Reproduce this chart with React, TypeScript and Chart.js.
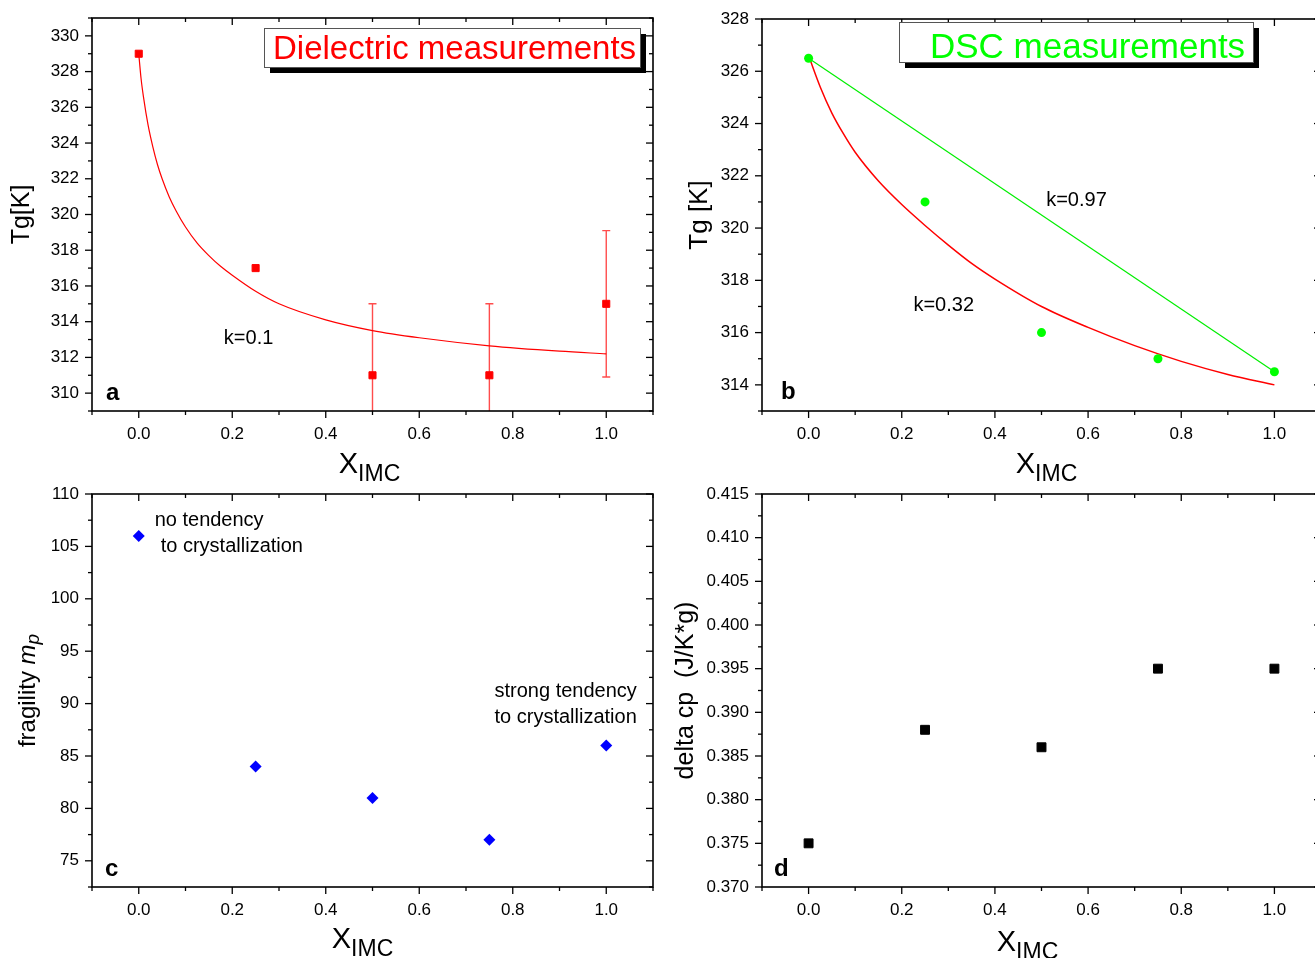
import React, { useEffect, useRef } from 'react';
import { Chart, registerables } from 'chart.js';

Chart.register(...registerables);

const FONT = '"Liberation Sans", Arial, Helvetica, sans-serif';

// ---------- shared x axis ----------
const xTicks = [0, 0.2, 0.4, 0.6, 0.8, 1.0];
const xMinorTicks = [-0.1, 0.1, 0.3, 0.5, 0.7, 0.9, 1.1];

// ---------- panel a : dielectric Tg ----------
const aX = [0, 0.25, 0.5, 0.75, 1.0];
const aTg = [329, 317, 311, 311, 315];
const aErr = [0, 0, 4, 4, 4.1];
const aFitX = [0, 0.005, 0.01, 0.02, 0.03, 0.04, 0.05, 0.065, 0.08, 0.1, 0.125, 0.15, 0.175, 0.2, 0.25, 0.3, 0.4, 0.5, 0.6, 0.75, 0.9, 1.0];
const aFitTg = [329.0, 327.6, 326.6, 325.0, 323.8, 322.8, 322.0, 321.0, 320.2, 319.3, 318.4, 317.7, 317.1, 316.6, 315.7, 315.0, 314.1, 313.5, 313.1, 312.65, 312.35, 312.2];
const aYTicks = [310, 312, 314, 316, 318, 320, 322, 324, 326, 328, 330];
const aYMinor = [309, 311, 313, 315, 317, 319, 321, 323, 325, 327, 329, 331];

// ---------- panel b : DSC Tg ----------
const bX = [0, 0.25, 0.5, 0.75, 1.0];
const bTg = [326.5, 321, 316, 315, 314.5];
const bLineX = [0, 1.0];
const bLineTg = [326.5, 314.5];
const bFitX = [0, 0.025, 0.05, 0.075, 0.1, 0.15, 0.2, 0.25, 0.3, 0.35, 0.4, 0.5, 0.6, 0.7, 0.8, 0.9, 1.0];
const bFitTg = [326.6, 325.4, 324.4, 323.6, 322.9, 321.8, 320.9, 320.1, 319.35, 318.65, 318.05, 317.0, 316.2, 315.5, 314.9, 314.4, 314.0];
const bYTicks = [314, 316, 318, 320, 322, 324, 326, 328];
const bYMinor = [313, 315, 317, 319, 321, 323, 325, 327];

// ---------- panel c : fragility ----------
const cX = [0, 0.25, 0.5, 0.75, 1.0];
const cM = [106, 84, 81, 77, 86];
const cYTicks = [75, 80, 85, 90, 95, 100, 105, 110];
const cYMinor = [72.5, 77.5, 82.5, 87.5, 92.5, 97.5, 102.5, 107.5];

// ---------- panel d : delta cp ----------
const dX = [0, 0.25, 0.5, 0.75, 1.0];
const dCp = [0.375, 0.388, 0.386, 0.395, 0.395];
const dYTicks = [0.37, 0.375, 0.38, 0.385, 0.39, 0.395, 0.4, 0.405, 0.41, 0.415];
const dYMinor = [0.3725, 0.3775, 0.3825, 0.3875, 0.3925, 0.3975, 0.4025, 0.4075, 0.4125];

const pts = (xs: number[], ys: number[]) => xs.map((x, i) => ({ x, y: ys[i] }));

type Spec = {
  left: number; top: number; w: number; h: number;
  area: { l: number; t: number; r: number; b: number };
  yMin: number; yMax: number; yTicks: number[]; yMinor: number[]; yDigits: number;
  datasets: any[];
  decorate: (chart: any, ctx: CanvasRenderingContext2D) => void;
  beforeData?: (chart: any, ctx: CanvasRenderingContext2D) => void;
};

function drawText(ctx: CanvasRenderingContext2D, s: string, x: number, y: number, font: string, color = '#000', align: CanvasTextAlign = 'left', base: CanvasTextBaseline = 'alphabetic') {
  ctx.font = font;
  ctx.fillStyle = color;
  ctx.textAlign = align;
  ctx.textBaseline = base;
  ctx.fillText(s, x, y);
}

function xTitle(ctx: CanvasRenderingContext2D, cx: number, base: number) {
  const f1 = `29px ${FONT}`;
  const f2 = `23px ${FONT}`;
  ctx.font = f1;
  const w1 = ctx.measureText('X').width;
  ctx.font = f2;
  const w2 = ctx.measureText('IMC').width;
  const x0 = cx - (w1 + w2) / 2;
  drawText(ctx, 'X', x0, base, f1);
  drawText(ctx, 'IMC', x0 + w1, base + 8, f2);
}

function yTitle(ctx: CanvasRenderingContext2D, parts: { s: string; font: string; dy?: number }[], x: number, cy: number) {
  ctx.save();
  ctx.translate(x, cy);
  ctx.rotate(-Math.PI / 2);
  let total = 0;
  parts.forEach(p => { ctx.font = p.font; total += ctx.measureText(p.s).width; });
  let cur = -total / 2;
  parts.forEach(p => {
    ctx.font = p.font;
    const w = ctx.measureText(p.s).width;
    drawText(ctx, p.s, cur, p.dy || 0, p.font, '#000', 'left', 'middle');
    cur += w;
  });
  ctx.restore();
}

function labelBox(ctx: CanvasRenderingContext2D, x: number, y: number, w: number, h: number, text: string, tx: number, ty: number, color: string, size: number) {
  ctx.save();
  ctx.fillStyle = '#000';
  ctx.fillRect(x + 6, y + 6, w, h);
  ctx.fillStyle = '#fff';
  ctx.fillRect(x, y, w, h);
  ctx.strokeStyle = '#555';
  ctx.lineWidth = 1;
  ctx.strokeRect(x + 0.5, y + 0.5, w, h);
  drawText(ctx, text, tx, ty, `${size}px ${FONT}`, color);
  ctx.restore();
}

function buildConfig(spec: Spec) {
  const XH = spec.h - spec.area.b - 10;
  const axesPlugin = {
    id: 'originAxes',
    beforeDatasetsDraw(chart: any) {
      if (spec.beforeData) {
        const ctx = chart.ctx;
        ctx.save();
        spec.beforeData(chart, ctx);
        ctx.restore();
      }
    },
    afterDraw(chart: any) {
      const ctx: CanvasRenderingContext2D = chart.ctx;
      const a = chart.chartArea;
      const xs = chart.scales.x;
      const ys = chart.scales.y;
      ctx.save();
      ctx.strokeStyle = '#000';
      ctx.lineWidth = 1.6;
      ctx.strokeRect(a.left, a.top, a.right - a.left, a.bottom - a.top);
      ctx.lineWidth = 1.3;
      const seg = (x1: number, y1: number, x2: number, y2: number) => {
        ctx.beginPath(); ctx.moveTo(x1, y1); ctx.lineTo(x2, y2); ctx.stroke();
      };
      const MJ = 7, MN = 4;
      xTicks.forEach(v => { const p = xs.getPixelForValue(v); seg(p, a.bottom, p, a.bottom + MJ); seg(p, a.top, p, a.top + MJ); });
      xMinorTicks.forEach(v => { const p = xs.getPixelForValue(v); seg(p, a.bottom, p, a.bottom + MN); seg(p, a.top, p, a.top + MN); });
      spec.yTicks.forEach(v => { const p = ys.getPixelForValue(v); seg(a.left - MJ, p, a.left, p); seg(a.right - MJ, p, a.right, p); });
      spec.yMinor.forEach(v => { const p = ys.getPixelForValue(v); seg(a.left - MN, p, a.left, p); seg(a.right - MN, p, a.right, p); });
      spec.decorate(chart, ctx);
      ctx.restore();
    },
  };
  return {
    type: 'scatter',
    data: { datasets: spec.datasets },
    plugins: [axesPlugin],
    options: {
      animation: false,
      responsive: false,
      maintainAspectRatio: false,
      layout: { padding: { left: 0, top: spec.area.t, right: spec.w - spec.area.r, bottom: 10 } },
      plugins: { legend: { display: false }, tooltip: { enabled: false } },
      scales: {
        x: {
          type: 'linear', min: -0.1, max: 1.1,
          grid: { display: false, drawTicks: true, tickLength: 13 }, border: { display: false },
          afterBuildTicks: (s: any) => { s.ticks = xTicks.map(v => ({ value: v })); },
          afterFit: (s: any) => { s.height = XH; },
          ticks: {
            font: { family: FONT, size: 17 }, color: '#000', padding: 0, maxRotation: 0, autoSkip: false,
            callback: (v: any) => Number(v).toFixed(1),
          },
        },
        y: {
          type: 'linear', min: spec.yMin, max: spec.yMax,
          grid: { display: false, drawTicks: true, tickLength: 13 }, border: { display: false },
          afterBuildTicks: (s: any) => { s.ticks = spec.yTicks.map(v => ({ value: v })); },
          afterFit: (s: any) => { s.width = spec.area.l; },
          ticks: {
            font: { family: FONT, size: 17 }, color: '#000', padding: 0, autoSkip: false,
            callback: (v: any) => Number(v).toFixed(spec.yDigits),
          },
        },
      },
    },
  };
}

const specA: Spec = {
  left: 0, top: 0, w: 660, h: 494,
  area: { l: 92, t: 18, r: 653, b: 411 },
  yMin: 309, yMax: 331, yTicks: aYTicks, yMinor: aYMinor, yDigits: 0,
  datasets: [
    { data: pts(aX, aTg), showLine: false, pointStyle: 'rect', pointRadius: 5, backgroundColor: '#ff0000', borderColor: '#ff0000', borderWidth: 1 },
    { data: pts(aFitX, aFitTg), showLine: true, borderColor: '#ff0000', borderWidth: 1.2, pointRadius: 0, cubicInterpolationMode: 'monotone', fill: false },
  ],
  beforeData: (chart, ctx) => {
    const a = chart.chartArea, xs = chart.scales.x, ys = chart.scales.y;
    ctx.beginPath();
    ctx.rect(a.left, a.top, a.right - a.left, a.bottom - a.top);
    ctx.clip();
    ctx.strokeStyle = 'rgba(255,0,0,0.7)';
    ctx.lineWidth = 1.4;
    aX.forEach((x, i) => {
      if (!aErr[i]) return;
      const px = xs.getPixelForValue(x);
      const hi = ys.getPixelForValue(aTg[i] + aErr[i]);
      const lo = ys.getPixelForValue(aTg[i] - aErr[i]);
      ctx.beginPath();
      ctx.moveTo(px, hi); ctx.lineTo(px, lo);
      ctx.moveTo(px - 4, hi); ctx.lineTo(px + 4, hi);
      ctx.moveTo(px - 4, lo); ctx.lineTo(px + 4, lo);
      ctx.stroke();
    });
  },
  decorate: (chart, ctx) => {
    const a = chart.chartArea, xs = chart.scales.x, ys = chart.scales.y;
    labelBox(ctx, 264, 28, 376, 39, 'Dielectric measurements', 273, 59, '#ff0000', 33);
    drawText(ctx, 'k=0.1', xs.getPixelForValue(0.182), ys.getPixelForValue(313.05), `20px ${FONT}`, '#000', 'left', 'middle');
    drawText(ctx, 'a', a.left + 14, a.bottom - 11, `bold 24px ${FONT}`);
    xTitle(ctx, (a.left + a.right) / 2 - 3, a.bottom + 62);
    yTitle(ctx, [{ s: 'Tg[K]', font: `25px ${FONT}` }], 22, (a.top + a.bottom) / 2);
  },
};

const specB: Spec = {
  left: 660, top: 0, w: 672, h: 494,
  area: { l: 102, t: 19, r: 661, b: 411 },
  yMin: 313, yMax: 328, yTicks: bYTicks, yMinor: bYMinor, yDigits: 0,
  datasets: [
    { data: pts(bX, bTg), showLine: false, pointStyle: 'circle', pointRadius: 4.5, backgroundColor: '#00ff00', borderColor: '#00ff00', borderWidth: 0 },
    { data: pts(bLineX, bLineTg), showLine: true, borderColor: '#00ee00', borderWidth: 1.2, pointRadius: 0, fill: false },
    { data: pts(bFitX, bFitTg), showLine: true, borderColor: '#ff0000', borderWidth: 1.5, pointRadius: 0, cubicInterpolationMode: 'monotone', fill: false },
  ],
  decorate: (chart, ctx) => {
    const a = chart.chartArea, xs = chart.scales.x, ys = chart.scales.y;
    labelBox(ctx, 899 - 660, 22, 354, 40, 'DSC measurements', 930 - 660, 58, '#00ff00', 35);
    drawText(ctx, 'k=0.97', xs.getPixelForValue(0.51), ys.getPixelForValue(321.07), `20px ${FONT}`, '#000', 'left', 'middle');
    drawText(ctx, 'k=0.32', xs.getPixelForValue(0.225), ys.getPixelForValue(317.05), `20px ${FONT}`, '#000', 'left', 'middle');
    drawText(ctx, 'b', a.left + 19, a.bottom - 12, `bold 24px ${FONT}`);
    xTitle(ctx, (a.left + a.right) / 2 + 5, a.bottom + 62);
    yTitle(ctx, [{ s: 'Tg [K]', font: `26px ${FONT}` }], 40, (a.top + a.bottom) / 2);
  },
};

const specC: Spec = {
  left: 0, top: 480, w: 660, h: 478,
  area: { l: 92, t: 14, r: 653, b: 407 },
  yMin: 72.5, yMax: 110, yTicks: cYTicks, yMinor: cYMinor, yDigits: 0,
  datasets: [
    { data: pts(cX, cM), showLine: false, pointStyle: 'rectRot', pointRadius: 6, backgroundColor: '#0000ff', borderColor: '#0000ff', borderWidth: 0 },
  ],
  decorate: (chart, ctx) => {
    const a = chart.chartArea, xs = chart.scales.x, ys = chart.scales.y;
    const f = `20px ${FONT}`;
    drawText(ctx, 'no tendency', xs.getPixelForValue(0.034), ys.getPixelForValue(107.5), f, '#000', 'left', 'middle');
    drawText(ctx, 'to crystallization', xs.getPixelForValue(0.047), ys.getPixelForValue(105.03), f, '#000', 'left', 'middle');
    drawText(ctx, 'strong tendency', xs.getPixelForValue(0.761), ys.getPixelForValue(91.2), f, '#000', 'left', 'middle');
    drawText(ctx, 'to crystallization', xs.getPixelForValue(0.761), ys.getPixelForValue(88.7), f, '#000', 'left', 'middle');
    drawText(ctx, 'c', a.left + 13, a.bottom - 11, `bold 24px ${FONT}`);
    xTitle(ctx, (a.left + a.right) / 2 - 10, a.bottom + 61);
    yTitle(ctx, [
      { s: 'fragility ', font: `24px ${FONT}` },
      { s: 'm', font: `italic 24px ${FONT}` },
      { s: 'p', font: `italic 19px ${FONT}`, dy: 6 },
    ], 28, (a.top + a.bottom) / 2);
  },
};

const specD: Spec = {
  left: 660, top: 480, w: 672, h: 478,
  area: { l: 102, t: 14, r: 661, b: 407 },
  yMin: 0.37, yMax: 0.415, yTicks: dYTicks, yMinor: dYMinor, yDigits: 3,
  datasets: [
    { data: pts(dX, dCp), showLine: false, pointStyle: 'rect', pointRadius: 6.3, backgroundColor: '#000', borderColor: '#000', borderWidth: 1 },
  ],
  decorate: (chart, ctx) => {
    const a = chart.chartArea;
    drawText(ctx, 'd', a.left + 12, a.bottom - 11, `bold 24px ${FONT}`);
    xTitle(ctx, (a.left + a.right) / 2 - 14, a.bottom + 64);
    yTitle(ctx, [{ s: 'delta cp  (J/K*g)', font: `25px ${FONT}` }], 26, (a.top + a.bottom) / 2);
  },
};

function Panel({ spec }: { spec: Spec }) {
  const ref = useRef<HTMLCanvasElement | null>(null);
  useEffect(() => {
    if (!ref.current) return;
    const chart = new Chart(ref.current, buildConfig(spec) as any);
    return () => chart.destroy();
  }, [spec]);
  return (
    <canvas
      ref={ref}
      width={spec.w}
      height={spec.h}
      style={{ position: 'absolute', left: spec.left, top: spec.top, width: spec.w, height: spec.h }}
    />
  );
}

export default function App() {
  return (
    <div style={{ position: 'fixed', left: 0, top: 0, width: 1315, height: 958, overflow: 'hidden', background: '#fff' }}>
      <Panel spec={specA} />
      <Panel spec={specB} />
      <Panel spec={specC} />
      <Panel spec={specD} />
    </div>
  );
}
